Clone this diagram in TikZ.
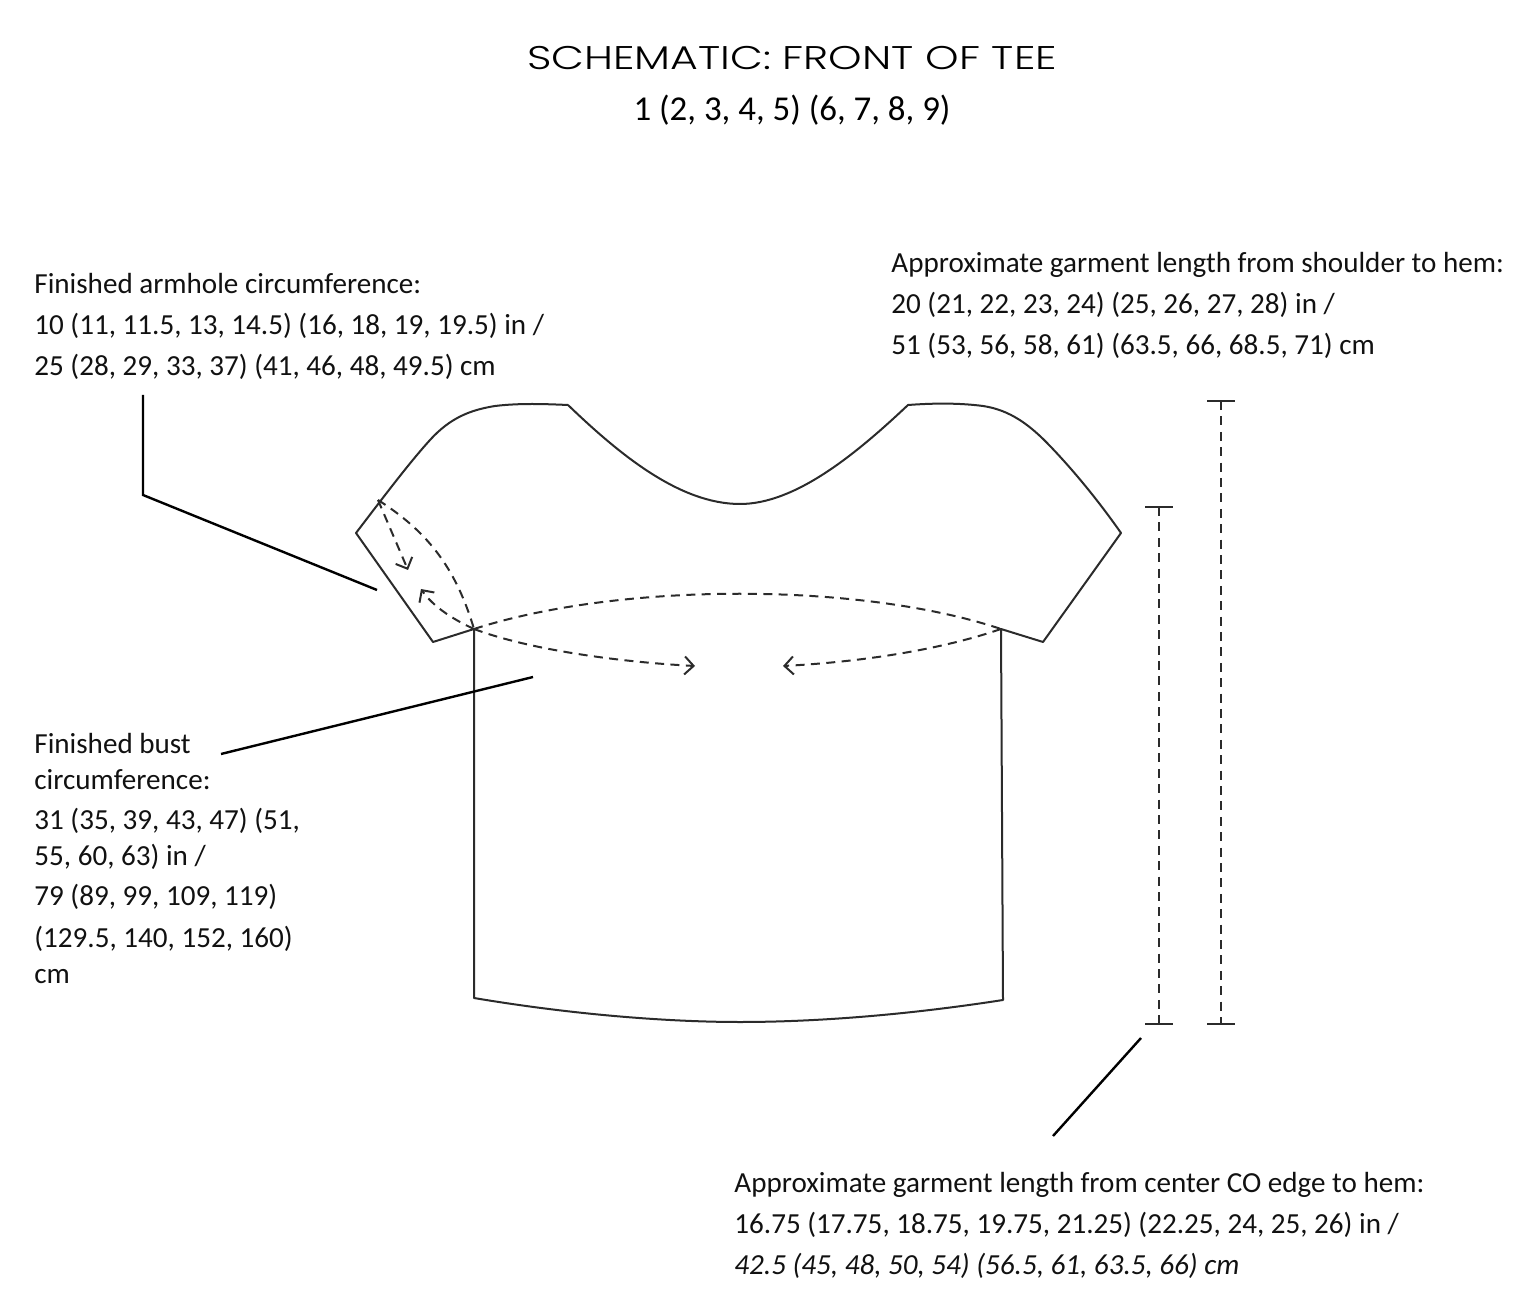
\documentclass[tikz,border=0pt]{standalone}
\usepackage{fontspec}
\setmainfont{Carlito}
\newfontfamily\titlefont[FakeStretch=1.3]{Poppins Light}
\usepackage{xcolor}
\usetikzlibrary{arrows.meta,positioning}
\definecolor{garmentline}{HTML}{2B2B2B}
\definecolor{labeltext}{HTML}{111111}

\begin{document}
\begin{tikzpicture}[
  x=0.5pt, y=-0.5pt,
  note/.style={anchor=north west, inner sep=0pt, align=left, font=\fontsize{14.55}{20.5}\selectfont, text=labeltext},
  outline/.style={draw=garmentline, line width=1pt, line join=round},
  leader/.style={draw=black, line width=1.2pt},
  dashline/.style={draw=garmentline, line width=1pt, dash pattern=on 4.5pt off 3.2pt},
  flow/.style={dashline, -{Straight Barb[length=4.5pt,width=9pt]}},
  endbar/.style={draw=garmentline, line width=1pt}
]
\useasboundingbox (0,0) rectangle (1536,1309);
% title
\node[inner sep=0pt, font=\titlefont\fontsize{16.4}{18}\selectfont] (title) at (792,58) {SCHEMATIC: FRONT OF TEE};
\node[inner sep=0pt, below=12pt of title, font=\fontsize{17.45}{20}\selectfont] (sizes) {1 (2, 3, 4, 5) (6, 7, 8, 9)};
% labels
\node[note] (armhole) at (34,272.5) {Finished armhole circumference:\\10 (11, 11.5, 13, 14.5) (16, 18, 19, 19.5) in /\\25 (28, 29, 33, 37) (41, 46, 48, 49.5) cm};
\node[note] (shoulder) at (891,251.5) {Approximate garment length from shoulder to hem:\\20 (21, 22, 23, 24) (25, 26, 27, 28) in /\\51 (53, 56, 58, 61) (63.5, 66, 68.5, 71) cm};
\node[note] (bust) at (34,732.5) {Finished bust\\[-2.5pt]circumference:\\[-0.5pt]31 (35, 39, 43, 47) (51,\\[-2.5pt]55, 60, 63) in /\\[-0.5pt]79 (89, 99, 109, 119)\\[0.5pt](129.5, 140, 152, 160)\\[-2.5pt]cm};
\node[note] (center) at (734,1171.5) {Approximate garment length from center CO edge to hem:\\16.75 (17.75, 18.75, 19.75, 21.25) (22.25, 24, 25, 26) in /\\\textit{42.5 (45, 48, 50, 54) (56.5, 61, 63.5, 66) cm}};
% garment
\coordinate (neckL) at (568,405);
\coordinate (neckR) at (908,405);
\coordinate (sleeveL) at (356,533);
\coordinate (sleeveR) at (1121,533);
\coordinate (cuffL) at (433,642);
\coordinate (cuffR) at (1043,642);
\coordinate (pitL) at (474,629);
\coordinate (pitR) at (1001,629);
\coordinate (hemL) at (474,998);
\coordinate (hemR) at (1003,1000);
\draw[outline] (neckL) .. controls (620,455) and (680,504) .. (740,504)
  .. controls (795,504) and (855,455) .. (neckR)
  .. controls (935,403) and (960,403) .. (983,406)
  .. controls (1010,410) and (1030,425) .. (1050,446)
  .. controls (1075,472) and (1100,503) .. (sleeveR)
  -- (cuffR) -- (pitR) -- (hemR)
  .. controls (900,1016) and (810,1022) .. (740,1022)
  .. controls (670,1022) and (575,1015) .. (hemL)
  -- (pitL) -- (cuffL) -- (sleeveL)
  .. controls (385,495) and (410,462) .. (430,440)
  .. controls (450,418) and (470,410) .. (495,406)
  .. controls (520,403) and (545,404) .. (neckL);
% dashed rounds
\coordinate (armtop) at (378,500);
\draw[dashline] (armtop) .. controls (425,530) and (455,565) .. (pitL);
\draw[flow] (armtop) -- (408,570);
\draw[flow] (pitL) .. controls (450,618) and (432,605) .. (421,589);
\draw[dashline] (pitL) .. controls (620,582) and (860,582) .. (pitR);
\draw[flow] (pitL) .. controls (530,650) and (620,662) .. (695,666);
\draw[flow] (pitR) .. controls (940,650) and (860,662) .. (783,666);
% measures
\foreach \barname/\xa/\ya in {short/1159/507, long/1221/401} {
  \coordinate (\barname top) at (\xa,\ya);
  \coordinate (\barname bot) at (\xa,1024);
  \draw[dashline] (\barname top) -- (\barname bot);
  \draw[endbar] (\xa-14,\ya) -- (\xa+14,\ya);
  \draw[endbar] (\xa-14,1024) -- (\xa+14,1024);
}
% leaders
\coordinate (armA) at (143,395);
\coordinate (armB) at (143,495);
\coordinate (armC) at (377,590);
\coordinate (bustA) at (221,754);
\coordinate (bustB) at (533,677);
\coordinate (lenA) at (1141,1038);
\coordinate (lenB) at (1053,1136);
\draw[leader] (armA) -- (armB) -- (armC);
\draw[leader] (bustA) -- (bustB);
\draw[leader] (lenA) -- (lenB);
\end{tikzpicture}
\end{document}
